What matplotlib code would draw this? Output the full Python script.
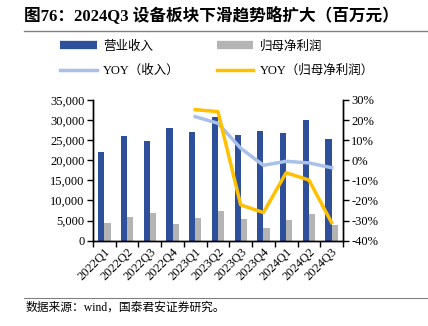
import matplotlib
matplotlib.use('Agg')
import matplotlib.pyplot as plt
import numpy as np

plt.rcParams['font.family'] = ['Liberation Serif', 'Noto Sans CJK SC']
plt.rcParams['axes.unicode_minus'] = False

# data
quarters = ['2022Q1', '2022Q2', '2022Q3', '2022Q4', '2023Q1', '2023Q2',
            '2023Q3', '2023Q4', '2024Q1', '2024Q2', '2024Q3']
revenue = [22100, 26000, 24800, 28100, 27000, 30700, 26300, 27400, 26800, 30100, 25200]
net_profit = [4480, 5970, 6960, 4150, 5650, 7460, 5470, 3160, 5220, 6640, 3830]
yoy_quarters = quarters[4:]
yoy_revenue = [21.7, 18.4, 6.0, -2.5, -0.5, -1.3, -3.7]
yoy_profit = [25.2, 24.2, -22.2, -26.0, -6.2, -9.8, -31.0]

blue = '#2E4F9A'
grey = '#B4B4B4'
light = '#A9C0E8'
gold = '#FFC000'

fig = plt.figure(figsize=(4.28, 3.26), dpi=100)
ax = fig.add_axes([0.2173, 0.2617, 0.584, 0.4316])
ax2 = ax.twinx()

x = np.arange(len(quarters))
w = 0.27
ax.bar(x - w / 2, revenue, w, color=blue, zorder=2)
ax.bar(x + w / 2, net_profit, w, color=grey, zorder=2)

xi = [quarters.index(q) for q in yoy_quarters]
ax2.plot(xi, yoy_revenue, color=light, lw=2.5)
ax2.plot(xi, yoy_profit, color=gold, lw=2.5)

ax.set_xlim(-0.5, len(quarters) - 0.5)
ax.set_ylim(0, 35000)
ax.set_yticks(np.arange(0, 35001, 5000))
ax.set_yticklabels(['{:,}'.format(v) for v in range(0, 35001, 5000)], fontsize=9)
ax2.set_ylim(-40, 30)
ax2.set_yticks(np.arange(-40, 31, 10))
ax2.set_yticklabels(['%d%%' % v for v in range(-40, 31, 10)], fontsize=9)

ax.set_xticks(x)
ax.set_xticklabels(quarters, rotation=45, ha='right', rotation_mode='anchor', fontsize=9)
ax.set_xticks(np.arange(-0.5, len(quarters), 1), minor=True)
ax.tick_params(axis='x', which='major', length=0, pad=4)
ax.tick_params(axis='x', which='minor', length=4, direction='out', width=1)
ax.tick_params(axis='y', length=4, width=1, pad=2)
ax2.tick_params(axis='y', length=4, width=1, pad=2)

for a in (ax, ax2):
    a.spines['top'].set_visible(False)
    for s in ('left', 'right', 'bottom'):
        a.spines[s].set_linewidth(1)

# legend (column-wise fill: col1 = revenue items, col2 = profit items)
handles = [plt.Line2D([], [], color=blue, lw=6, solid_capstyle='butt'),
           plt.Line2D([], [], color=light, lw=2.5),
           plt.Line2D([], [], color=grey, lw=6, solid_capstyle='butt'),
           plt.Line2D([], [], color=gold, lw=2.5)]
labels = ['营业收入', 'YOY（收入）', '归母净利润', 'YOY（归母净利润）']
fig.legend(handles, labels, ncol=2, loc='upper left', bbox_to_anchor=(0.115, 0.91),
           frameon=False, fontsize=9, handlelength=2.9,
           columnspacing=3.0, labelspacing=0.95, handletextpad=0.5)

# title and source
fig.text(0.055, 0.955, '图76：2024Q3 设备板块下滑趋势略扩大（百万元）', fontsize=12,
         fontweight='bold', va='center', ha='left')
fig.add_artist(plt.Line2D([0.055, 1.0], [0.905, 0.905], color='#808080', lw=1))
fig.add_artist(plt.Line2D([0.055, 1.0], [0.087, 0.087], color='#808080', lw=0.8))
fig.text(0.06, 0.055, '数据来源：wind，国泰君安证券研究。', fontsize=8.5, va='center', ha='left')

fig.savefig('out.png', dpi=100)
